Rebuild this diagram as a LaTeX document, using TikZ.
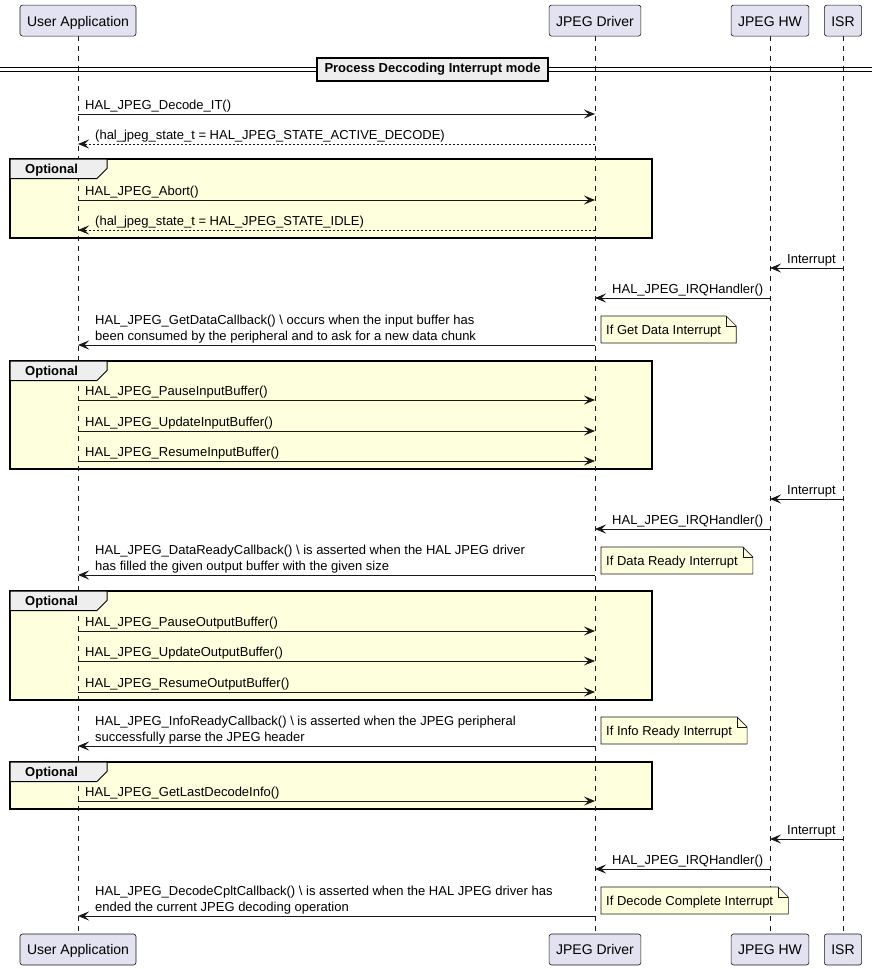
\documentclass[tikz,border=0pt]{standalone}
\usepackage{fontspec}
\setmainfont{Liberation Sans}
\usetikzlibrary{arrows.meta,calc}
\definecolor{partfill}{HTML}{E2E2F0}
\definecolor{linec}{HTML}{181818}
\definecolor{notefill}{HTML}{FEFFDD}
\definecolor{grpfill}{HTML}{FEFFDD}
\definecolor{tabfill}{HTML}{EEEEEE}
\pgfdeclarelayer{grp}\pgfdeclarelayer{life}\pgfdeclarelayer{notebg}
\pgfsetlayers{grp,life,notebg,main}
\newcommand\fnt{\fontsize{13}{15}\selectfont}
\tikzset{
  part/.style={draw=linec, fill=partfill, rounded corners=2.5pt, line width=0.6pt,
    minimum height=31pt, inner xsep=7pt, inner ysep=0pt, text height=12pt, text depth=1.2pt,
    font=\fontsize{14}{16}\selectfont, text=black},
  lifeline/.style={draw=linec, line width=0.5pt, dash pattern=on 5pt off 5pt},
  msg/.style={draw=linec, line width=1pt, -{Stealth[length=11pt,width=9pt,inset=4.5pt]}},
  ret/.style={msg, dash pattern=on 2pt off 2pt},
  lbl/.style={anchor=base west, inner sep=0pt, font=\fnt, text=black},
  notebox/.style={draw=linec, line width=0.6pt, fill=notefill},
  grpbox/.style={draw=black, line width=1.5pt, fill=grpfill},
  tabbox/.style={draw=black, line width=1pt, fill=tabfill},
  grplbl/.style={anchor=base west, inner sep=0pt, font=\fnt\bfseries},
  divbox/.style={draw=black, line width=1.6pt, fill=tabfill, minimum height=23pt,
    inner xsep=7.5pt, font=\fnt\bfseries}
}
% style, name, x1, x2, y, textx, text
\newcommand\sqmsg[7]{%
  \coordinate (#2a) at (#3,#5);
  \coordinate (#2b) at (#4,#5);
  \draw[#1] (#2a) -- (#2b);
  \node[lbl] (#2t) at (#6,#5-4.5) {#7};}
% name, top y, text
\newcommand\sqnote[3]{%
  \node[lbl] (#1) at (606,#2+18) {#3};
  \coordinate (#1ne) at ($(#1.east |- 0,#2)+(15,0)$);
  \coordinate (#1se) at ($(#1.east |- 0,#2+27)+(15,0)$);
  \coordinate (#1nw) at (601,#2);
  \coordinate (#1sw) at (601,#2+27);
  \begin{pgfonlayer}{notebg}
  \draw[notebox] (#1nw) -- ($(#1ne)+(-10,0)$) -- ($(#1ne)+(0,10)$) -- (#1se) -- (#1sw) -- cycle;
  \draw[notebox, fill=none] ($(#1ne)+(-10,0)$) -- ($(#1ne)+(-10,10)$) -- ($(#1ne)+(0,10)$);
  \end{pgfonlayer}}
% name, top, bottom
\newcommand\optgroup[3]{%
  \begin{pgfonlayer}{grp}
  \draw[grpbox] (10,#2) rectangle (652,#3);
  \end{pgfonlayer}
  \begin{pgfonlayer}{notebg}
  \draw[tabbox] (10,#2) -- (107,#2) -- (107,#2+9.5) -- (97,#2+19.5) -- (10,#2+19.5) -- cycle;
  \end{pgfonlayer}
  \node[grplbl] (#1) at (25,#2+14.2) {Optional};}
\begin{document}
\begin{tikzpicture}[x=1pt,y=-1pt]
\useasboundingbox (0,0) rectangle (872,969);
% participants
\node[part] (uaT) at (78,20.6) {User Application};
\node[part] (jdT) at (595,20.6) {JPEG Driver};
\node[part] (hwT) at (770,20.6) {JPEG HW};
\node[part] (isT) at (843,20.6) {ISR};
\node[part] (uaB) at (78,949.5) {User Application};
\node[part] (jdB) at (595,949.5) {JPEG Driver};
\node[part] (hwB) at (770,949.5) {JPEG HW};
\node[part] (isB) at (843,949.5) {ISR};
\begin{pgfonlayer}{life}
\draw[lifeline] (uaT.south) -- (uaB.north);
\draw[lifeline] (jdT.south) -- (jdB.north);
\draw[lifeline] (hwT.south) -- (hwB.north);
\draw[lifeline] (isT.south) -- (isB.north);
\end{pgfonlayer}
% divider
\coordinate (dl1) at (0,67.7); \coordinate (dr1) at (872,67.7);
\coordinate (dl2) at (0,71); \coordinate (dr2) at (872,71);
\draw[black, line width=0.9pt] (dl1) -- (dr1);
\draw[black, line width=0.9pt] (dl2) -- (dr2);
\node[divbox] (div) at (432.5,69.4) {Process Deccoding Interrupt mode};
% messages
\sqmsg{msg}{m1}{78}{595}{114}{85}{HAL\_JPEG\_Decode\_IT()}
\sqmsg{ret}{m2}{595}{78}{144}{95}{(hal\_jpeg\_state\_t = HAL\_JPEG\_STATE\_ACTIVE\_DECODE)}
\optgroup{g1}{159}{238}
\sqmsg{msg}{m3}{78}{595}{200}{85}{HAL\_JPEG\_Abort()}
\sqmsg{ret}{m4}{595}{78}{230}{95}{(hal\_jpeg\_state\_t = HAL\_JPEG\_STATE\_IDLE)}
\sqmsg{msg}{m5}{843}{770}{268}{787}{Interrupt}
\sqmsg{msg}{m6}{770}{595}{298}{612}{HAL\_JPEG\_IRQHandler()}
\sqmsg{msg}{m7}{595}{78}{345}{95}{been consumed by the peripheral and to ask for a new data chunk}
\node[lbl] (m7u) at (95,345-20.5) {HAL\_JPEG\_GetDataCallback() \textbackslash{} occurs when the input buffer has};
\sqnote{n1}{316}{If Get Data Interrupt}
\optgroup{g2}{361}{469}
\sqmsg{msg}{m8}{78}{595}{400}{85}{HAL\_JPEG\_PauseInputBuffer()}
\sqmsg{msg}{m9}{78}{595}{431}{85}{HAL\_JPEG\_UpdateInputBuffer()}
\sqmsg{msg}{m10}{78}{595}{461}{85}{HAL\_JPEG\_ResumeInputBuffer()}
\sqmsg{msg}{m11}{843}{770}{499}{787}{Interrupt}
\sqmsg{msg}{m12}{770}{595}{529}{612}{HAL\_JPEG\_IRQHandler()}
\sqmsg{msg}{m13}{595}{78}{575}{95}{has filled the given output buffer with the given size}
\node[lbl] (m13u) at (95,575-20.5) {HAL\_JPEG\_DataReadyCallback() \textbackslash{} is asserted when the HAL JPEG driver};
\sqnote{n2}{547}{If Data Ready Interrupt}
\optgroup{g3}{591}{700}
\sqmsg{msg}{m14}{78}{595}{631}{85}{HAL\_JPEG\_PauseOutputBuffer()}
\sqmsg{msg}{m15}{78}{595}{661}{85}{HAL\_JPEG\_UpdateOutputBuffer()}
\sqmsg{msg}{m16}{78}{595}{692}{85}{HAL\_JPEG\_ResumeOutputBuffer()}
\sqmsg{msg}{m17}{595}{78}{746}{95}{successfully parse the JPEG header}
\node[lbl] (m17u) at (95,746-20.5) {HAL\_JPEG\_InfoReadyCallback() \textbackslash{} is asserted when the JPEG peripheral};
\sqnote{n3}{717}{If Info Ready Interrupt}
\optgroup{g4}{762}{809}
\sqmsg{msg}{m18}{78}{595}{801}{85}{HAL\_JPEG\_GetLastDecodeInfo()}
\sqmsg{msg}{m19}{843}{770}{839}{787}{Interrupt}
\sqmsg{msg}{m20}{770}{595}{869}{612}{HAL\_JPEG\_IRQHandler()}
\sqmsg{msg}{m21}{595}{78}{916}{95}{ended the current JPEG decoding operation}
\node[lbl] (m21u) at (95,916-20.5) {HAL\_JPEG\_DecodeCpltCallback() \textbackslash{} is asserted when the HAL JPEG driver has};
\sqnote{n4}{887}{If Decode Complete Interrupt}
\end{tikzpicture}
\end{document}
